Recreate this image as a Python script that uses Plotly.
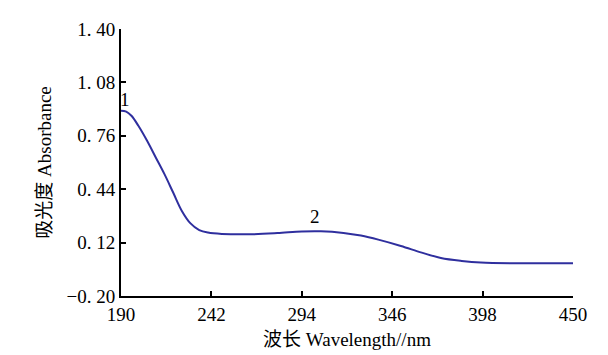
import plotly.graph_objects as go

# Data
wavelength = [190, 193, 196, 200, 205, 210, 215, 220, 225, 230, 235, 240, 248,
              265, 280, 294, 305, 318, 328, 338, 351, 363, 374, 386, 397, 416, 450]
absorbance = [0.91, 0.905, 0.88, 0.82, 0.73, 0.63, 0.53, 0.42, 0.31, 0.235, 0.195,
              0.18, 0.172, 0.170, 0.177, 0.187, 0.188, 0.178, 0.162, 0.138, 0.10,
              0.06, 0.028, 0.01, 0.0, -0.004, -0.003]

peak_labels = ["1", "2"]
peak_x = [192.5, 301.5]
peak_y = [0.98, 0.275]

x_ticks = [190, 242, 294, 346, 398, 450]
y_ticks = [-0.20, 0.12, 0.44, 0.76, 1.08, 1.40]
y_ticktext = ["\u22120. 20", "0. 12", "0. 44", "0. 76", "1. 08", "1. 40"]

FONT = '"Liberation Serif", "Times New Roman", "Noto Sans CJK SC", serif'

fig = go.Figure()
fig.add_trace(go.Scatter(
    x=wavelength, y=absorbance, mode="lines",
    line=dict(color="#2F2F9E", width=2, shape="spline", smoothing=1.0),
    hoverinfo="skip", showlegend=False,
))

for t, xx, yy in zip(peak_labels, peak_x, peak_y):
    fig.add_annotation(x=xx, y=yy, text=t, showarrow=False,
                       font=dict(family=FONT, size=19, color="black"))

fig.update_layout(
    width=608, height=355,
    margin=dict(l=113, r=43, t=21, b=67),
    paper_bgcolor="white", plot_bgcolor="white",
    font=dict(family=FONT, size=19, color="black"),
    xaxis=dict(
        range=[190, 450], tickvals=x_ticks, ticktext=[str(v) for v in x_ticks],
        showline=True, linecolor="black", linewidth=2, mirror=False,
        ticks="inside", ticklen=5, tickwidth=2, tickcolor="black",
        showgrid=False, zeroline=False,
        title=dict(text="波长 Wavelength//nm", font=dict(family=FONT, size=19), standoff=9),
        tickfont=dict(family=FONT, size=19),
    ),
    yaxis=dict(
        range=[-0.2, 1.4], tickvals=y_ticks, ticktext=y_ticktext,
        showline=True, linecolor="black", linewidth=2, mirror=False,
        ticks="inside", ticklen=5, tickwidth=2, tickcolor="black",
        showgrid=False, zeroline=False,
        title=dict(text="吸光度 Absorbance", font=dict(family=FONT, size=19), standoff=10),
        tickfont=dict(family=FONT, size=19),
    ),
)

fig.write_html("out.html")
